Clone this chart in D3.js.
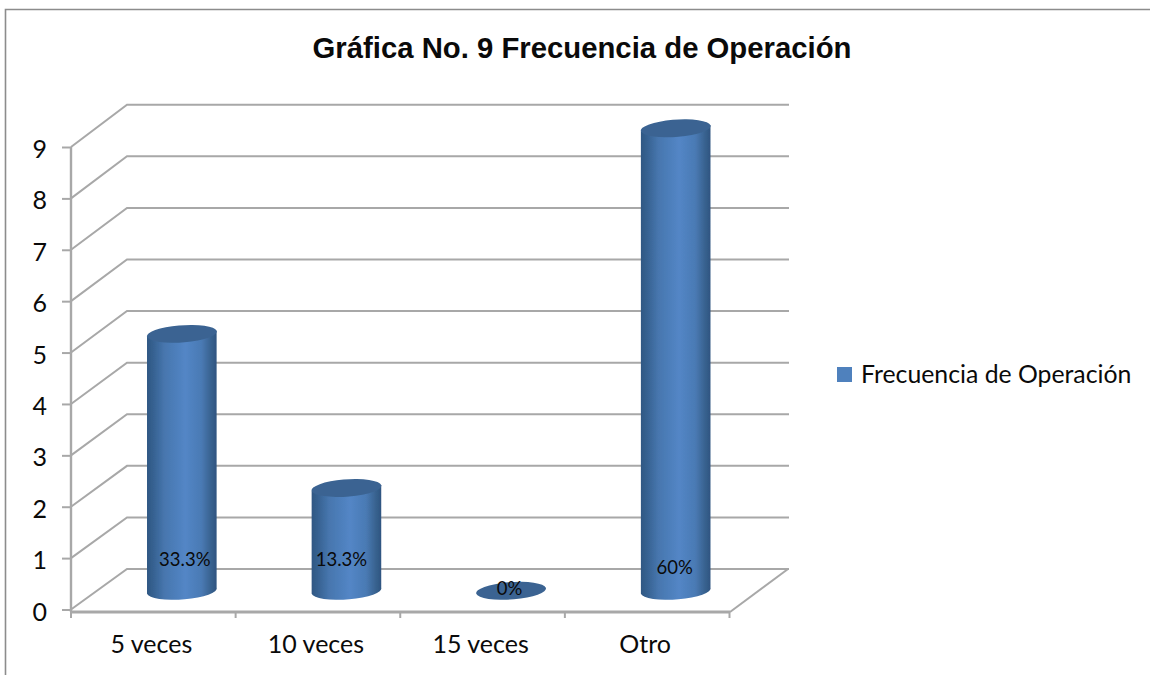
<!DOCTYPE html>
<html><head><meta charset="utf-8">
<script src="https://cdnjs.cloudflare.com/ajax/libs/d3/7.8.5/d3.min.js"></script>
<style>html,body{margin:0;padding:0;background:#fff;overflow:hidden}svg{display:block}</style>
</head><body><svg id="c" width="1150" height="675"></svg>
<script>
const title = "Gráfica No. 9 Frecuencia de Operación";
const seriesName = "Frecuencia de Operación";
const categories = ["5 veces", "10 veces", "15 veces", "Otro"];
const values = [5, 2, 0, 9];
const pointLabels = ["33.3%", "13.3%", "0%", "60%"];
const yTicks = [0, 1, 2, 3, 4, 5, 6, 7, 8, 9];

const svg = d3.select("#c");
const grey = "#a8a8a8", txt = "#0a0a0a", bodyFont = "Lato, 'Open Sans', sans-serif";

const yFront = d3.scaleLinear().domain([0, 9]).range([609.5, 147]);
const yBack = d3.scaleLinear().domain([0, 9]).range([569, 104.7]);
const x = d3.scaleBand().domain(categories).range([71, 729.5]);
const depthX = 56, backRight = 789, floorY = 612;

const defs = svg.append("defs");
const grad = defs.append("linearGradient").attr("id", "cyl").attr("x1", 0).attr("x2", 1).attr("y1", 0).attr("y2", 0);
[[0, "#2f5783"], [0.08, "#35608f"], [0.25, "#4776ae"], [0.55, "#5386c6"], [0.78, "#4a7ab4"], [0.92, "#38628f"], [1, "#2e5480"]]
  .forEach(([o, c]) => grad.append("stop").attr("offset", o).attr("stop-color", c));
defs.append("filter").attr("id", "soft").attr("x", "-5%").attr("y", "-5%").attr("width", "110%").attr("height", "110%")
  .append("feGaussianBlur").attr("stdDeviation", 0.6);

svg.append("path").attr("d", "M1150,9.5H5.5V675").attr("fill", "none").attr("stroke", "#8c8c8c").attr("stroke-width", 1.6);

svg.append("text").attr("x", 582).attr("y", 58).attr("text-anchor", "middle")
  .attr("font-family", "'Liberation Sans', Arial, sans-serif").attr("font-weight", "bold")
  .attr("font-size", 29.3).attr("fill", txt).text(title);

const grid = svg.append("g").attr("fill", "none").attr("stroke", grey).attr("stroke-width", 2);
grid.selectAll("path").data(yTicks).join("path")
  .attr("d", v => d3.line()([[71, yFront(v)], [71 + depthX, yBack(v)], [backRight, yBack(v)]]));
grid.append("path").attr("d", d3.line()([[730, floorY], [backRight - 1, yBack(0)]]));

const yAxis = svg.append("g").attr("transform", "translate(71,0)")
  .call(d3.axisLeft(yFront).tickValues(yTicks).tickFormat(d3.format("d")).tickSize(9).tickPadding(15));
yAxis.select(".domain").attr("d", `M0,${yFront(9)}V${floorY}`).attr("stroke", grey).attr("stroke-width", 2.4);
yAxis.selectAll(".tick line").attr("stroke", grey).attr("stroke-width", 2);
yAxis.selectAll("text").attr("font-family", bodyFont).attr("font-size", 25).attr("fill", txt).attr("dy", "0.42em");

const xAxis = svg.append("g").attr("transform", `translate(0,${floorY})`)
  .call(d3.axisBottom(x).tickSize(0).tickPadding(23));
xAxis.select(".domain").attr("d", "M71,0H730").attr("stroke", grey).attr("stroke-width", 2.8);
xAxis.selectAll("text").attr("font-family", bodyFont).attr("font-size", 25).attr("fill", txt).attr("dx", -2);
xAxis.selectAll(".sep").data([...categories.map(c => x(c)), x.range()[1]]).join("line").attr("class", "sep")
  .attr("x1", d => d).attr("x2", d => d).attr("y1", 0).attr("y2", 6).attr("stroke", grey).attr("stroke-width", 2);

const rx = 34.8, ry = 8.6, tilt = -4, slope = 3;
const barCx = c => x(c) + x.bandwidth() / 2 + depthX / 2 + 0.5;
const barY = v => yFront(v) - 18.7;
const bars = svg.append("g").selectAll("g").data(categories.map((c, i) => ({ c, v: values[i], l: pointLabels[i] }))).join("g");
bars.filter(d => d.v > 0).append("path").attr("fill", "url(#cyl)").attr("filter", "url(#soft)")
  .attr("d", d => {
    const cx = barCx(d.c), t = barY(d.v), b = barY(0);
    return `M${cx - rx},${t + slope}L${cx - rx},${b + slope}A${rx},${ry} ${tilt} 0 0 ${cx + rx},${b - slope}L${cx + rx},${t - slope}Z`;
  });
bars.append("path").attr("fill", "#3b6492").attr("filter", "url(#soft)")
  .attr("d", d => {
    const cx = barCx(d.c), t = barY(d.v);
    return `M${cx - rx},${t + slope}A${rx},${ry} ${tilt} 1 1 ${cx + rx},${t - slope}A${rx},${ry} ${tilt} 1 1 ${cx - rx},${t + slope}Z`;
  });

const labelShift = { "5 veces": [3, 560], "10 veces": [-5, 560], "15 veces": [-1.5, 589], "Otro": [-1, 568] };
bars.append("text").attr("text-anchor", "middle").attr("dy", "0.35em")
  .attr("x", d => barCx(d.c) + labelShift[d.c][0]).attr("y", d => labelShift[d.c][1])
  .attr("font-family", bodyFont).attr("font-size", 18.5).attr("fill", txt).text(d => d.l);

svg.append("rect").attr("x", 837).attr("y", 367).attr("width", 15).attr("height", 15).attr("fill", "#4f81bd");
svg.append("text").attr("x", 861).attr("y", 383).attr("font-family", bodyFont).attr("font-size", 24.8).attr("fill", txt).text(seriesName);
</script></body></html>
